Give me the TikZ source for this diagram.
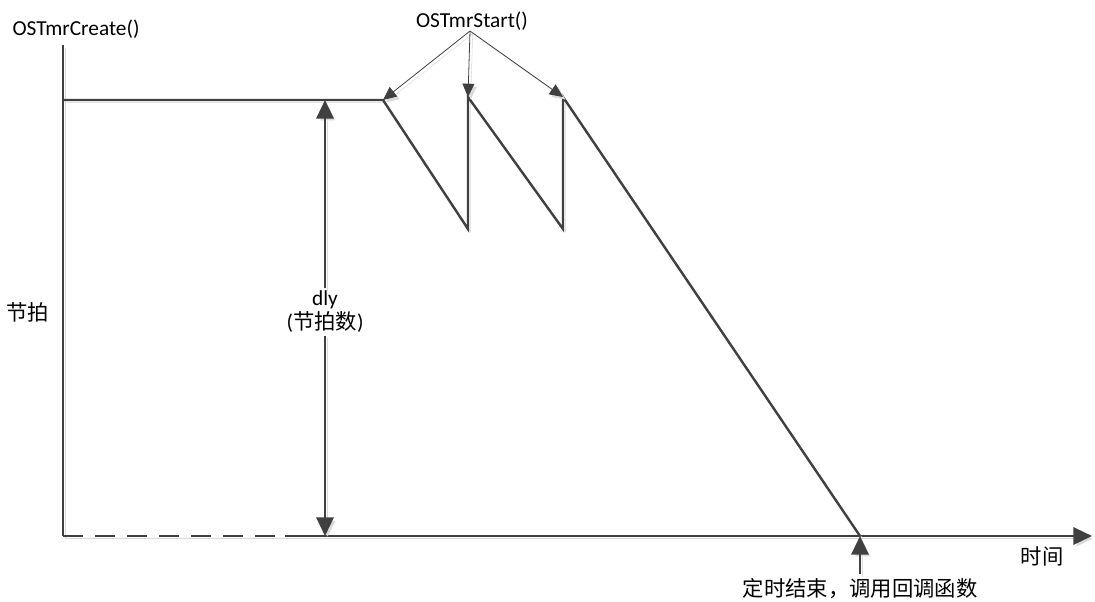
\documentclass[tikz,border=0pt]{standalone}
\usepackage{fontspec}
\setmainfont{Carlito}
\newfontfamily\cjk{Noto Sans CJK SC}
\usetikzlibrary{arrows.meta}
\definecolor{axisgray}{RGB}{64,64,64}
\definecolor{shadowgray}{RGB}{218,218,218}

\begin{document}
\begin{tikzpicture}[x=0.75pt, y=-0.75pt,
    font=\fontsize{16}{18}\selectfont,
    shadowed/.style={preaction={draw=shadowgray, transform canvas={xshift=2pt, yshift=-2pt}}},
    curve/.style={draw=axisgray, line width=1.8pt, shadowed},
    bigtip/.style={-{Triangle[length=14pt, width=13pt]}},
    thinarrow/.style={draw=axisgray, line width=0.6pt, shadowed, -{Triangle[length=10pt, width=9pt]}}]
    \useasboundingbox (0,0) rectangle (1095,601);

    \coordinate (ytop) at (63,45);
    \coordinate (origin) at (63,536);
    \coordinate (dashend) at (285,536);
    \coordinate (xend) at (1092,536);
    \coordinate (level) at (63,100);
    \coordinate (start1) at (383,100);
    \coordinate (low1) at (468,229);
    \coordinate (start2) at (468,97);
    \coordinate (low2) at (563,229);
    \coordinate (start3) at (563,97);
    \coordinate (expire) at (860,536);
    \coordinate (dlytop) at (325,100);
    \coordinate (dlybot) at (325,536);
    \coordinate (fork) at (470,31);

    \node (create) at (76,29) {OSTmrCreate()};
    \node (startlbl) at (472,21) {OSTmrStart()};
    \node (ticks) at (28,312) {\cjk 节拍};
    \node (time) at (1042,556) {\cjk 时间};
    \node (done) at (860,589) {\cjk 定时结束，调用回调函数};
    \node (dly) [fill=white, align=center, inner sep=2pt] at (325,312) {dly\\({\cjk 节拍数})};

    \draw[curve] (ytop) -- (origin);
    \draw[curve, dash pattern=on 15pt off 9pt] (origin) -- (dashend);
    \draw[curve, bigtip] (dashend) -- (xend);
    \draw[curve] (level) -- (start1) -- (low1) -- (start2) -- (low2) -- (start3) -- (expire);

    \draw[curve, bigtip] (dly) -- (dlytop);
    \draw[curve, bigtip] (dly) -- (dlybot);
    \draw[curve, bigtip] (done.north) -- (expire);

    \draw[thinarrow] (fork) -- (start1);
    \draw[thinarrow] (fork) -- (start2);
    \draw[thinarrow] (fork) -- (start3);
\end{tikzpicture}
\end{document}
